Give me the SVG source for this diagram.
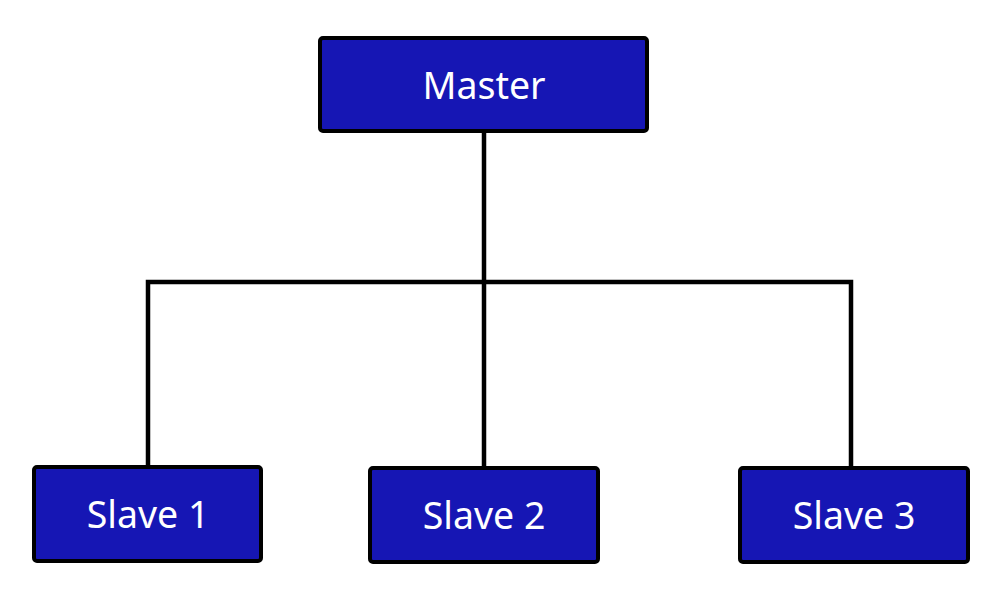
<svg xmlns="http://www.w3.org/2000/svg" width="1000" height="600" viewBox="0 0 1000 600">
<style>
.box{fill:#1616b4;stroke:#000;stroke-width:4}
.lbl{font-family:"Noto Sans","Open Sans",sans-serif;font-size:37.5px;fill:#fff;text-anchor:middle}
.wire{fill:none;stroke:#000;stroke-width:4.5;stroke-linejoin:miter}
</style>
<rect width="1000" height="600" fill="#fff"/>
<g id="connectors">
<path class="wire" d="M484,131 V282"/>
<path class="wire" d="M148,467 V282 H851 V468"/>
<path class="wire" d="M484,282 V468"/>
</g>
<g id="master">
<rect class="box" x="320" y="38" width="327" height="93" rx="3"/>
<text class="lbl" x="484" y="99">Master</text>
</g>
<g id="slave1">
<rect class="box" x="34" y="467" width="227" height="94" rx="3"/>
<text class="lbl" x="148" y="528">Slave 1</text>
</g>
<g id="slave2">
<rect class="box" x="370" y="468" width="228" height="94" rx="3"/>
<text class="lbl" x="484" y="529">Slave 2</text>
</g>
<g id="slave3">
<rect class="box" x="740" y="468" width="228" height="94" rx="3"/>
<text class="lbl" x="854" y="529">Slave 3</text>
</g>
</svg>
